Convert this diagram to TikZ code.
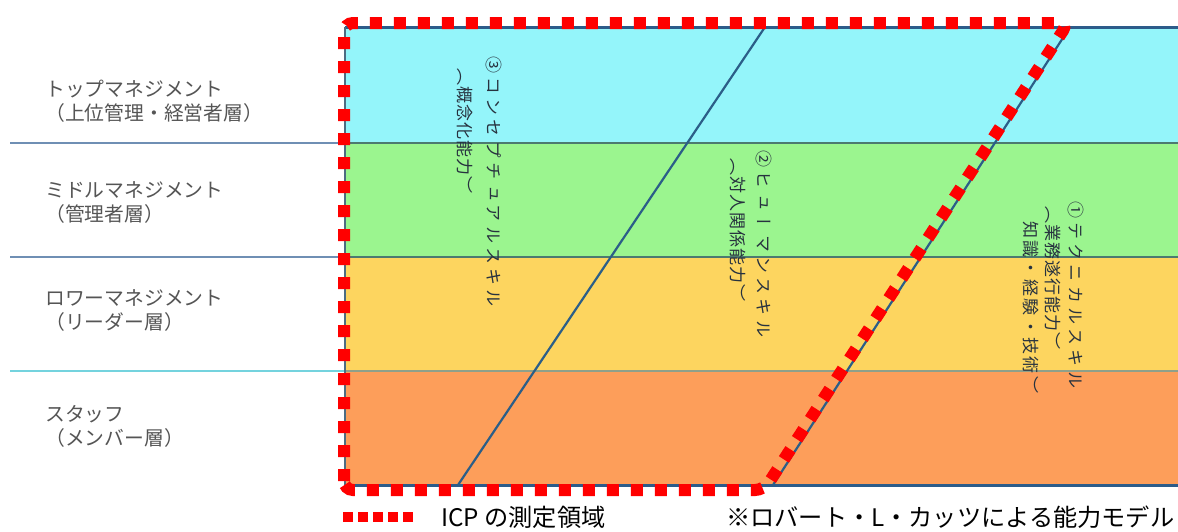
\documentclass[tikz,border=0pt]{standalone}
\usepackage{fontspec}
\setmainfont{Noto Sans CJK JP}
\newfontfamily\jp{Noto Sans CJK JP}
\newfontfamily\vjp[Vertical=RotatedGlyphs,RawFeature=+vert,LetterSpace=6]{Noto Sans CJK JP}
\newfontfamily\vjpwide[Vertical=RotatedGlyphs,RawFeature=+vert,LetterSpace=14]{Noto Sans CJK JP}
\newfontfamily\vjpls[Vertical=RotatedGlyphs,RawFeature=+vert,LetterSpace=25]{Noto Sans CJK JP}
\definecolor{bandC}{HTML}{94F5FA}
\definecolor{bandG}{HTML}{9BF58F}
\definecolor{bandY}{HTML}{FDD55F}
\definecolor{bandO}{HTML}{FD9E5A}
\definecolor{divider}{HTML}{4C7A70}
\definecolor{dividerlight}{HTML}{8FA08A}
\definecolor{frameblue}{HTML}{2C5C8A}
\definecolor{frameleft}{HTML}{4D6C82}
\definecolor{leftline}{HTML}{6F8FB4}
\definecolor{leftcyan}{HTML}{74D3DE}
\definecolor{diagline}{HTML}{2B5E88}
\definecolor{labelgray}{HTML}{555555}
\definecolor{vtext}{HTML}{27323F}
\definecolor{icpred}{HTML}{FF0000}
\tikzset{
  levellabel/.style={anchor=west, align=left, inner sep=0pt, text=labelgray, font=\jp\fontsize{19.8}{24}\selectfont},
  vmain/.style={rotate=-90, anchor=west, inner sep=0pt, text=vtext, font=\vjpls\fontsize{17}{17}\selectfont},
  vsub/.style={rotate=-90, anchor=west, inner sep=0pt, text=vtext, font=\vjp\fontsize{17}{17}\selectfont},
  vsubwide/.style={rotate=-90, anchor=west, inner sep=0pt, text=vtext, font=\vjpwide\fontsize{17}{17}\selectfont},
  legendtext/.style={anchor=west, inner sep=0pt, text=black, font=\jp\fontsize{24.2}{26}\selectfont},
  icpdots/.style={draw=icpred, line width=12pt, dash pattern=on 12pt off 12pt, rounded corners=9pt},
  legenddots/.style={draw=icpred, line width=10pt, dash pattern=on 10pt off 5pt},
  skilline/.style={draw=diagline, line width=2.2pt},
}
\begin{document}
\begin{tikzpicture}[x=1pt,y=-1pt]
\useasboundingbox (0,0) rectangle (1178,531);
% bands
\fill[bandC] (345,27) rectangle (1178,143);
\fill[bandG] (345,143) rectangle (1178,257);
\fill[bandY] (345,257) rectangle (1178,371);
\fill[bandO] (345,371) rectangle (1178,485);
% dividers
\draw[leftline, line width=2pt] (10,143) -- (345,143);
\draw[leftline, line width=2pt] (10,257) -- (345,257);
\draw[leftcyan, line width=2pt] (10,371) -- (345,371);
\draw[divider, line width=2.5pt] (345,143) -- (1178,143);
\draw[divider, line width=2.5pt] (345,257) -- (1178,257);
\draw[dividerlight, line width=2pt] (345,371) -- (1178,371);
% frame
\draw[frameblue, line width=3pt] (345,27) -- (1178,27);
\draw[frameblue, line width=3pt] (345,485) -- (1178,485);
\draw[frameleft, line width=2.5pt] (345,27) -- (345,485);
% skill boundary lines
\coordinate (s1top) at (765,27);
\coordinate (s1bot) at (458,485);
\coordinate (s2top) at (1070,27);
\coordinate (s2bot) at (773,485);
\draw[skilline] (s1top) -- (s1bot);
\draw[skilline] (s2top) -- (s2bot);
% level labels
\node[levellabel] (top) at (45,101.5) {トップマネジメント\\（上位管理・経営者層）};
\node[levellabel] (mid) at (45,203) {ミドルマネジメント\\（管理者層）};
\node[levellabel] (low) at (45,311) {ロワーマネジメント\\（リーダー層）};
\node[levellabel] (stf) at (45,426) {スタッフ\\（メンバー層）};
% skill texts (vertical)
\node[vmain] (c3) at (494,56) {③コンセプチュアルスキル};
\node[vsub] (c3s) at (465,68) {（概念化能力）};
\node[vmain] (h2) at (764,150) {②ヒューマンスキル};
\node[vsub] (h2s) at (738,158) {（対人関係能力）};
\node[vmain] (t1) at (1076,201) {①テクニカルスキル};
\node[vsub] (t1s) at (1053,206) {（業務遂行能力）};
\node[vsubwide] (t1t) at (1031,221) {知識・経験・技術）};
% ICP region
\coordinate (r1) at (344,490);
\coordinate (r2) at (344,23);
\coordinate (r3) at (1068,23);
\coordinate (r4) at (764,490);
\draw[icpdots] (r1) -- (r2) -- (r3) -- (r4) -- cycle;
% legend
\coordinate (l1) at (343,517);
\coordinate (l2) at (413,517);
\draw[legenddots] (l1) -- (l2);
\node[legendtext] (lg1) at (441,517) {ICP の測定領域};
\node[legendtext] (lg2) at (726,517) {※ロバート・L・カッツによる能力モデル};
\end{tikzpicture}
\end{document}
